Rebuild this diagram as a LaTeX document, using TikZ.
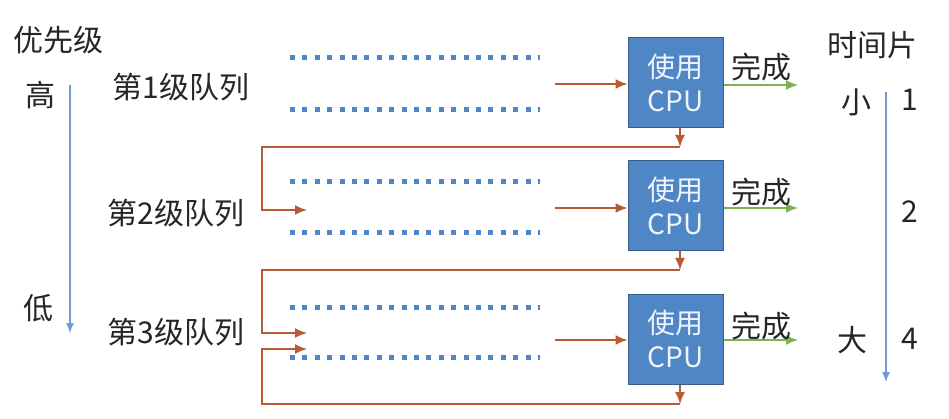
\documentclass[tikz,border=0pt]{standalone}
\usepackage{fontspec}
\setmainfont{Noto Sans CJK SC}
\usetikzlibrary{arrows.meta}

\definecolor{cpublue}{RGB}{78,134,198}
\definecolor{cpuline}{RGB}{56,93,138}
\definecolor{flowbrown}{RGB}{184,90,50}
\definecolor{donegreen}{RGB}{125,178,80}
\definecolor{axisblue}{RGB}{110,155,210}
\definecolor{txt}{RGB}{38,38,38}

\tikzset{
    lbl/.style={text=txt, font=\fontsize{30}{34}\selectfont, inner sep=0pt},
    cpubox/.style={draw=cpuline, fill=cpublue, line width=1pt, minimum width=95, minimum height=90,
        text=white!92!cpublue, align=center, font=\fontsize{28}{34}\selectfont, inner sep=0pt},
    queue/.style={cpublue, line width=5pt, dash pattern=on 5pt off 7.4pt},
    flow/.style={flowbrown, line width=1.6pt, -{Latex[length=12pt,width=10pt]}},
    done/.style={donegreen, line width=1.6pt, -{Latex[length=12pt,width=10pt]}},
    axis/.style={axisblue, line width=1.3pt, -{Latex[length=10pt,width=8pt]}}
}

\begin{document}
\begin{tikzpicture}[x=1pt, y=-1pt]
    \useasboundingbox (0,0) rectangle (949,419);

    % Priorita
    \node[lbl] (prio) at (58,40) {优先级};
    \node[lbl] (high) at (40,95) {高};
    \node[lbl] (low) at (38,308) {低};
    \coordinate (ptop) at (70,85);
    \coordinate (pbot) at (70,333);
    \draw[axis] (ptop) -- (pbot);

    % Code
    \node[lbl] (q1) at (181,87) {第1级队列};
    \node[lbl] (q2) at (176,213) {第2级队列};
    \node[lbl] (q3) at (176,332) {第3级队列};

    \draw[queue] (290,58) -- (540,58);
    \draw[queue] (290,110) -- (540,110);
    \draw[queue] (290,182) -- (540,182);
    \draw[queue] (290,233) -- (540,233);
    \draw[queue] (290,307) -- (540,307);
    \draw[queue] (290,357) -- (540,357);

    % CPU
    \node[cpubox] (cpu1) at (675.5,82.5) {使用\\CPU};
    \node[cpubox] (cpu2) at (675.5,205.5) {使用\\CPU};
    \node[cpubox] (cpu3) at (675.5,339) {使用\\CPU};

    % Ingresso
    \coordinate (in1) at (555,84);
    \coordinate (in2) at (555,208);
    \coordinate (in3) at (555,340);
    \draw[flow] (in1) -- (cpu1.west |- in1);
    \draw[flow] (in2) -- (cpu2.west |- in2);
    \draw[flow] (in3) -- (cpu3.west |- in3);

    % Completato
    \coordinate (out1) at (798,85);
    \coordinate (out2) at (798,208);
    \coordinate (out3) at (798,340);
    \draw[done] (cpu1.east |- out1) -- (out1);
    \draw[done] (cpu2.east |- out2) -- (out2);
    \draw[done] (cpu3.east |- out3) -- (out3);
    \node[lbl] (done1) at (761,67) {完成};
    \node[lbl] (done2) at (761,192) {完成};
    \node[lbl] (done3) at (761,326) {完成};

    % Retroazione
    \coordinate (d1) at (680,147);
    \coordinate (d2) at (680,270);
    \coordinate (d3) at (680,404);
    \coordinate (e2) at (307,210);
    \coordinate (e3) at (307,333);
    \coordinate (e3b) at (307,349);
    \draw[flow] ([xshift=4.5pt]cpu1.south) -- (d1);
    \draw[flow] ([xshift=4.5pt]cpu2.south) -- (d2);
    \draw[flow] ([xshift=4.5pt]cpu3.south) -- (d3);
    \draw[flow] (d1) -- (262,147) |- (e2);
    \draw[flow] (d2) -- (262,270) |- (e3);
    \draw[flow] (d3) -- (262,404) |- (e3b);

    % Quanto di tempo
    \node[lbl] (slice) at (872,45) {时间片};
    \node[lbl] (small) at (856,102) {小};
    \node[lbl] (big) at (852,340) {大};
    \node[lbl] (t1) at (910,100) {1};
    \node[lbl] (t2) at (910,212) {2};
    \node[lbl] (t4) at (910,339) {4};
    \coordinate (ttop) at (886,92);
    \coordinate (tbot) at (886,382);
    \draw[axis] (ttop) -- (tbot);
\end{tikzpicture}
\end{document}
